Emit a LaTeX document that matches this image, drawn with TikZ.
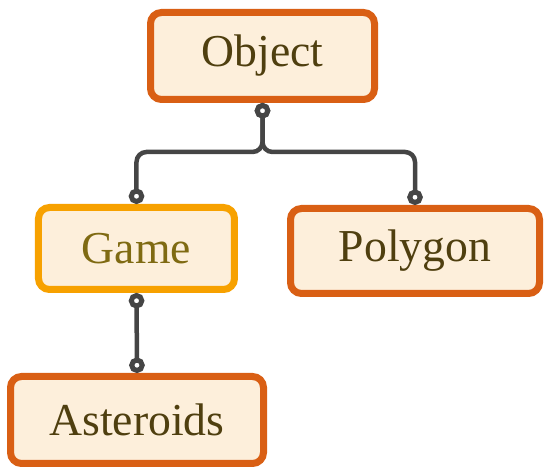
\documentclass[tikz,border=0pt]{standalone}
\usepackage{fontspec}
\setmainfont{Liberation Serif}
\usetikzlibrary{arrows.meta}
\definecolor{arancio}{HTML}{D95F14}
\definecolor{giallo}{HTML}{F7A100}
\definecolor{crema}{HTML}{FDEFDB}
\definecolor{testo}{HTML}{4F3F0F}
\definecolor{oliva}{HTML}{7F6A12}
\definecolor{grigio}{HTML}{454545}
\tikzset{
    classe/.style = {draw = arancio, fill = crema, line width = 0.14cm, rounded corners = 0.22cm, text = testo, inner sep = 0pt, font = \fontsize{26}{30}\selectfont},
    pallino/.tip = {Circle[fill = white, length = 0.31cm, line width = 0.1cm]},
    legame/.style = {draw = grigio, line width = 0.09cm, rounded corners = 0.2cm, pallino-pallino}
}

\begin{document}
\begin{tikzpicture}
    % Cornice
    \useasboundingbox (0,0) rectangle (10.9,9.36);
    % Classi
    \node[classe, minimum width = 4.48cm, minimum height = 1.74cm] (object) at (5.25,8.24) {Object};
    \node[classe, draw = giallo, text = oliva, minimum width = 3.92cm, minimum height = 1.64cm] (game) at (2.73,4.39) {Game};
    \node[classe, minimum width = 4.98cm, minimum height = 1.70cm] (polygon) at (8.3,4.34) {Polygon};
    \node[classe, minimum width = 5.06cm, minimum height = 1.74cm] (asteroids) at (2.74,0.96) {Asteroids};
    % Collegamenti
    \coordinate (bivio) at (5.25,6.32);
    \draw[legame] (object.south) -- (object.south |- bivio) -| (game.north);
    \draw[legame] (object.south) -- (object.south |- bivio) -| (polygon.north);
    \draw[legame] (game.south) -- (asteroids.north);
\end{tikzpicture}
\end{document}
